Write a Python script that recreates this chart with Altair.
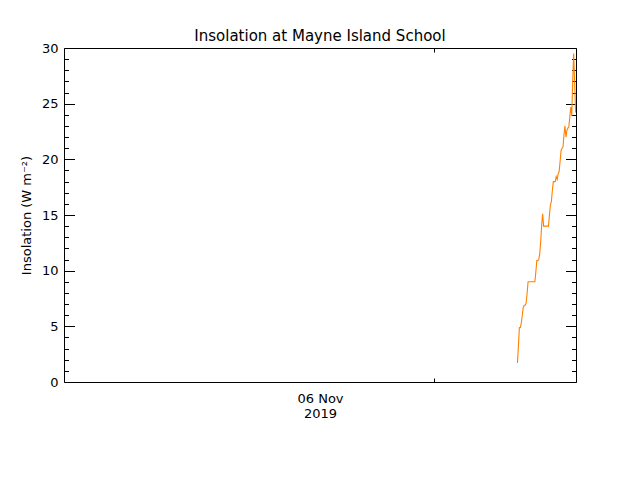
import altair as alt
import pandas as pd

# Sample times (local, 07 Nov 2019) and insolation values (W m^-2)
times = [
    "07:10", "07:15", "07:20", "07:25", "07:30", "07:35", "07:40", "07:45", "07:50", "07:55",
    "08:00", "08:05", "08:10", "08:15", "08:20", "08:25", "08:30", "08:35", "08:40", "08:45",
    "08:50", "08:55", "09:00", "09:05", "09:10", "09:15", "09:20", "09:25", "09:30", "09:35",
    "09:40", "09:45", "09:50", "09:55", "10:00", "10:05", "10:10", "10:15", "10:20", "10:25",
    "10:30", "10:35", "10:40", "10:45", "10:50", "10:55", "11:00", "11:05", "11:10", "11:15",
    "11:20", "11:25", "11:30", "11:35", "11:40", "11:45", "11:50", "11:55", "12:00", "12:05",
    "12:10",
]
insolation = [
    1.7, 3.2, 4.9, 4.9, 5.3, 6.0, 6.7, 6.9, 6.9, 7.1,
    8.0, 9.0, 9.0, 9.0, 9.0, 9.0, 9.0, 9.0, 9.0, 9.9,
    10.9, 10.9, 11.0, 11.5, 12.6, 14.1, 15.1, 14.0, 14.0, 14.0,
    14.0, 14.0, 14.0, 15.0, 15.9, 16.2, 17.2, 18.0, 18.0, 18.0,
    18.45, 18.2, 18.7, 18.9, 19.8, 20.8, 21.0, 21.1, 22.2, 23.0,
    22.0, 22.6, 22.8, 22.9, 23.8, 24.7, 23.9, 27.0, 29.5, 26.9,
    24.2,
]

x_tick_hours = [0]                 # midnight at start of 07 Nov
x_domain = [-31.8, 12.2]           # hours relative to 07 Nov 00:00
x_title = ["06 Nov", "2019"]
y_label_values = [0, 5, 10, 15, 20, 25, 30]
y_tick_values = list(range(0, 31))
y_domain = [0, 30]

hours = [int(t[:2]) + int(t[3:]) / 60 for t in times]
df = pd.DataFrame({"hour": hours, "val": insolation})

W, H = 512, 334
FONT = "DejaVu Sans"

major_minor = {"condition": {"test": "datum.value % 5 === 0", "value": 10.5}, "value": 4.5}


def xenc(axis):
    return alt.X("hour:Q", scale=alt.Scale(domain=x_domain, nice=False, zero=False), axis=axis)


def yenc(axis):
    return alt.Y("val:Q", scale=alt.Scale(domain=y_domain, nice=False, zero=False), axis=axis)


# inward ticks on bottom and right edges
ticks_a = alt.Chart(df).mark_line(strokeOpacity=0).encode(
    x=xenc(alt.Axis(orient="top", offset=-H, values=x_tick_hours, tickSize=4, labels=False,
                    domain=False, grid=False, title=None)),
    y=yenc(alt.Axis(orient="left", offset=-W, values=y_tick_values, tickSize=major_minor,
                    labels=False, domain=False, grid=False, title=None)),
)

# inward ticks on top and left edges
ticks_b = alt.Chart(df).mark_line(strokeOpacity=0).encode(
    x=xenc(alt.Axis(orient="bottom", offset=-H, values=x_tick_hours, tickSize=4, labels=False,
                    domain=False, grid=False, title=None)),
    y=yenc(alt.Axis(orient="right", offset=-W, values=y_tick_values, tickSize=major_minor,
                    labels=False, domain=False, grid=False, title=None)),
)

main = alt.Chart(df).mark_line(color="#ff8000", strokeWidth=1.1, clip=True).encode(
    x=xenc(alt.Axis(orient="bottom", ticks=False, labels=False, domain=False, grid=False,
                    title=x_title, titleFont=FONT, titleFontSize=13, titleFontWeight="normal",
                    titlePadding=10, titleLineHeight=15, titleColor="black")),
    y=yenc(alt.Axis(orient="left", ticks=False, domain=False, grid=False, values=y_label_values,
                    labelFont=FONT, labelFontSize=13, labelPadding=6, labelColor="black",
                    title="Insolation (W m⁻²)", titleFont=FONT, titleFontSize=13,
                    titleFontWeight="normal", titlePadding=8, titleColor="black")),
)

chart = alt.layer(ticks_a, ticks_b, main).resolve_scale(
    x="independent", y="independent"
).properties(
    width=W,
    height=H,
    autosize=alt.AutoSizeParams(type="none"),
    padding={"left": 56, "top": 40, "right": 50, "bottom": 80},
    title=alt.TitleParams("Insolation at Mayne Island School", font=FONT, fontSize=15,
                          fontWeight="normal", anchor="middle", frame="group",
                          baseline="alphabetic", offset=6, dy=20, color="black"),
).configure_view(
    stroke="black", strokeWidth=1
).configure_axis(
    tickColor="black", tickWidth=1
)

chart.save("out.html", embed_options={"renderer": "svg", "actions": False})
